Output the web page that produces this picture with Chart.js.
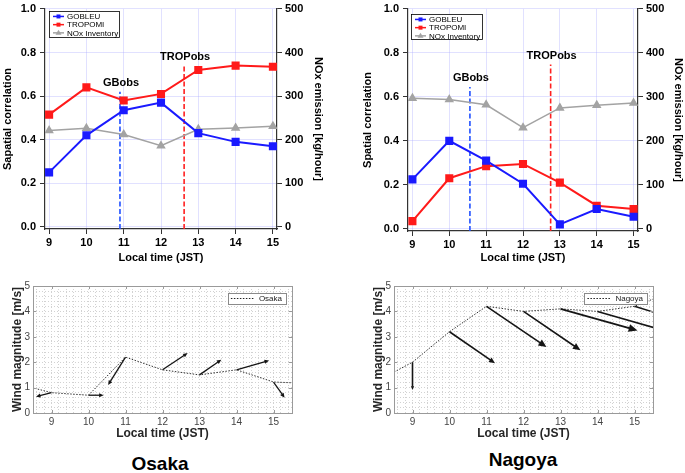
<!DOCTYPE html>
<html>
<head>
<meta charset="utf-8">
<script src="https://cdn.jsdelivr.net/npm/chart.js@4.4.0/dist/chart.umd.min.js"></script>
<style>
body { margin: 0; background: #fff; width: 685px; height: 473px; position: relative; overflow: hidden; font-family: "Liberation Sans", Arial, sans-serif; }
canvas { position: absolute; }
.city { position: absolute; font-weight: bold; font-size: 19px; line-height: 22px; color: #000; white-space: nowrap; transform: translateX(-50%); }
</style>
</head>
<body>
<canvas id="osakaTop" style="left:0;top:0" width="340" height="270"></canvas>
<canvas id="nagoyaTop" style="left:360px;top:0" width="325" height="270"></canvas>
<canvas id="osakaWind" style="left:0;top:270px" width="340" height="175"></canvas>
<canvas id="nagoyaWind" style="left:361px;top:270px" width="324" height="175"></canvas>
<div class="city" style="left:160px;top:453px">Osaka</div>
<div class="city" style="left:523px;top:449px">Nagoya</div>
<script>
// hours of the day (JST)
var hours = [9, 10, 11, 12, 13, 14, 15];
var corrTicks = [0, 0.2, 0.4, 0.6, 0.8, 1.0];
var noxTicks = [0, 100, 200, 300, 400, 500];

// spatial correlation, Osaka
var osakaGobleu = [0.25, 0.42, 0.535, 0.57, 0.43, 0.39, 0.37];
var osakaTropomi = [0.515, 0.64, 0.58, 0.61, 0.72, 0.74, 0.735];
var osakaNox = [221, 226, 212, 186, 224, 227, 231];
// spatial correlation, Nagoya
var nagoyaGobleu = [0.225, 0.40, 0.31, 0.205, 0.02, 0.09, 0.055];
var nagoyaTropomi = [0.035, 0.23, 0.285, 0.295, 0.21, 0.105, 0.09];
var nagoyaNox = [297, 294, 282, 230, 275, 281, 286];

// observation time markers
var obsLabels = ['GBobs', 'TROPobs'];
var obsColors = ['#2050ff', '#ff2020'];
var osakaObsTime = [10.9, 12.62];
var osakaObsTop = [0.62, 0.74];
var nagoyaObsTime = [10.56, 12.75];
var nagoyaObsTop = [0.645, 0.747];

// wind magnitude (m/s), the line runs past both plot edges
var windHours = [8, 9, 10, 11, 12, 13, 14, 15, 16];
var osakaWind = [1.18, 0.8, 0.7, 2.2, 1.7, 1.5, 1.7, 1.22, 1.16];
var nagoyaWind = [1.22, 2.0, 3.2, 4.2, 4.0, 4.1, 4.0, 4.2, 4.77];
// wind arrows at each hour (dx in hours, dy in m/s)
var osakaU = [-0.42, 0.41, -0.47, 0.68, 0.59, 0.88, 0.30];
var osakaV = [-0.16, 0, -1.10, 0.66, 0.60, 0.37, -0.62];
var nagoyaU = [0, 1.23, 1.62, 1.54, 2.08, 2.1, 2.0];
var nagoyaV = [-1.09, -1.24, -1.60, -1.53, -0.85, -0.88, -0.9];

// minor grid positions for the wind plots
var windGridX = [];
for (var k = 43; k <= 77; k++) windGridX.push(k / 5);

var FONT = '"Liberation Sans", Arial, sans-serif';

function pts(xs, ys) {
    return xs.map(function (x, i) { return {x: x, y: ys[i]}; });
}

function asTicks(list) {
    return function (s) { s.ticks = list.map(function (t) { return {value: t}; }); };
}

// dashed obs lines + custom boxed legend
var topExtras = {
    id: 'topExtras',
    beforeDatasetsDraw: function (chart, args, o) {
        var ctx = chart.ctx, a = chart.chartArea, x = chart.scales.x, y = chart.scales.y;
        ctx.save();
        o.obsTime.forEach(function (t, i) {
            var px = x.getPixelForValue(t);
            var py = y.getPixelForValue(o.obsTop[i]);
            ctx.strokeStyle = obsColors[i];
            ctx.lineWidth = 1.6;
            ctx.setLineDash([5, 2.5]);
            ctx.beginPath();
            ctx.moveTo(px, a.bottom);
            ctx.lineTo(px, py);
            ctx.stroke();
            ctx.setLineDash([]);
            ctx.fillStyle = '#000';
            ctx.font = 'bold 11px ' + FONT;
            ctx.textAlign = 'center';
            ctx.textBaseline = 'middle';
            ctx.fillText(obsLabels[i], px + 1, py - 9);
        });
        ctx.restore();
    },
    afterDraw: function (chart, args, o) {
        var ctx = chart.ctx, a = chart.chartArea;
        var bx = a.left + o.legend.dx, by = a.top + o.legend.dy;
        ctx.save();
        ctx.fillStyle = '#fff';
        ctx.fillRect(bx, by, o.legend.w, o.legend.h);
        ctx.strokeStyle = '#000';
        ctx.lineWidth = 0.8;
        ctx.strokeRect(bx + 0.5, by + 0.5, o.legend.w, o.legend.h);
        chart.data.datasets.forEach(function (ds, i) {
            var ly = by + 5.5 + i * 8.2;
            ctx.strokeStyle = ds.borderColor;
            ctx.lineWidth = 1.5;
            ctx.beginPath();
            ctx.moveTo(bx + 4, ly);
            ctx.lineTo(bx + 15, ly);
            ctx.stroke();
            ctx.fillStyle = ds.borderColor;
            ctx.beginPath();
            if (ds.pointStyle === 'triangle') {
                ctx.moveTo(bx + 9.5, ly - 3);
                ctx.lineTo(bx + 12.5, ly + 2);
                ctx.lineTo(bx + 6.5, ly + 2);
                ctx.closePath();
            } else {
                ctx.rect(bx + 7.5, ly - 2, 4, 4);
            }
            ctx.fill();
            ctx.fillStyle = '#000';
            ctx.font = '8px ' + FONT;
            ctx.textAlign = 'left';
            ctx.textBaseline = 'middle';
            ctx.fillText(ds.label, bx + 18, ly + 0.5);
        });
        ctx.restore();
    }
};

function topChart(id, gob, trop, nox, obsTime, obsTop, yTitle, geo) {
    var tickFont = {family: FONT, size: 11, weight: 'bold', lineHeight: 0.9};
    var gridCol = 'rgba(170,170,255,0.35)';
    return new Chart(document.getElementById(id), {
        type: 'line',
        data: {
            datasets: [{
                label: 'GOBLEU',
                data: pts(hours, gob),
                borderColor: '#1a1aff',
                backgroundColor: '#1a1aff',
                borderWidth: 2,
                pointStyle: 'rect',
                pointRadius: 4.3,
                yAxisID: 'y'
            }, {
                label: 'TROPOMI',
                data: pts(hours, trop),
                borderColor: '#ff1a1a',
                backgroundColor: '#ff1a1a',
                borderWidth: 2,
                pointStyle: 'rect',
                pointRadius: 4.3,
                yAxisID: 'y'
            }, {
                label: 'NOx Inventory',
                data: pts(hours, nox),
                borderColor: '#a3a3a3',
                backgroundColor: '#a3a3a3',
                borderWidth: 1.5,
                pointStyle: 'triangle',
                pointRadius: 4,
                yAxisID: 'y2'
            }]
        },
        options: {
            responsive: false,
            animation: false,
            layout: {padding: {top: geo.padTop, left: 0, right: 0, bottom: 0}},
            plugins: {
                legend: {display: false},
                tooltip: {enabled: false},
                topExtras: {obsTime: obsTime, obsTop: obsTop, legend: geo.legend}
            },
            scales: {
                x: {
                    type: 'linear',
                    min: geo.xmin,
                    max: geo.xmax,
                    afterBuildTicks: asTicks(hours),
                    ticks: {padding: 4, color: '#000', font: tickFont, maxRotation: 0},
                    grid: {color: gridCol, tickColor: '#333', tickLength: 5},
                    border: {color: '#333', width: 1.2},
                    title: {display: true, text: 'Local time (JST)', color: '#000', font: {family: FONT, size: 11, weight: 'bold'}, padding: {top: 0, bottom: 5}},
                    afterFit: function (s) { s.height = geo.xH; }
                },
                y: {
                    position: 'left',
                    min: -0.01,
                    max: 1,
                    afterBuildTicks: asTicks(corrTicks),
                    ticks: {padding: 4, color: '#000', font: tickFont, callback: function (v) { return v.toFixed(1); }},
                    grid: {color: gridCol, tickColor: '#333', tickLength: 5},
                    border: {color: '#333', width: 1.2},
                    title: {display: true, text: yTitle, color: '#000', font: {family: FONT, size: 11, weight: 'bold'}, padding: {top: geo.yTitlePad, bottom: 0}},
                    afterFit: function (s) { s.width = geo.yW; }
                },
                y2: {
                    position: 'right',
                    min: -5,
                    max: 500,
                    afterBuildTicks: asTicks(noxTicks),
                    ticks: {padding: 3, color: '#000', font: tickFont},
                    grid: {drawOnChartArea: false, tickColor: '#333', tickLength: 5},
                    border: {color: '#333', width: 1.2},
                    title: {display: true, text: 'NOx emission [kg/hour]', color: '#000', font: {family: FONT, size: 11, weight: 'bold'}, padding: {top: geo.y2TitlePad, bottom: 0}},
                    afterFit: function (s) { s.width = geo.y2W; }
                }
            }
        },
        plugins: [topExtras]
    });
}

// wind arrows, box frame, inner ticks and legend
var windExtras = {
    id: 'windExtras',
    afterDatasetsDraw: function (chart, args, o) {
        var ctx = chart.ctx, a = chart.chartArea, x = chart.scales.x, y = chart.scales.y;
        var wind = chart.data.datasets[0].data;
        ctx.save();
        ctx.beginPath();
        ctx.rect(a.left, a.top, a.right - a.left, a.bottom - a.top);
        ctx.clip();
        ctx.strokeStyle = '#151515';
        ctx.fillStyle = '#151515';
        ctx.lineWidth = o.lineWidth;
        hours.forEach(function (h, i) {
            var mag = wind[windHours.indexOf(h)].y;
            var x0 = x.getPixelForValue(h), y0 = y.getPixelForValue(mag);
            var x1 = x.getPixelForValue(h + o.u[i]), y1 = y.getPixelForValue(mag + o.v[i]);
            var len = Math.hypot(x1 - x0, y1 - y0);
            var ang = Math.atan2(y1 - y0, x1 - x0);
            var head = Math.max(o.minHead, len * 0.12);
            var xb = x1 - head * 0.8 * Math.cos(ang), yb = y1 - head * 0.8 * Math.sin(ang);
            ctx.beginPath();
            ctx.moveTo(x0, y0);
            ctx.lineTo(xb, yb);
            ctx.stroke();
            ctx.beginPath();
            ctx.moveTo(x1, y1);
            ctx.lineTo(x1 - head * Math.cos(ang - 0.42), y1 - head * Math.sin(ang - 0.42));
            ctx.lineTo(x1 - head * Math.cos(ang + 0.42), y1 - head * Math.sin(ang + 0.42));
            ctx.closePath();
            ctx.fill();
        });
        ctx.restore();

        ctx.save();
        // frame
        ctx.strokeStyle = '#9a9a9a';
        ctx.lineWidth = 1;
        ctx.strokeRect(Math.round(a.left) + 0.5, Math.round(a.top) + 0.5, Math.round(a.right - a.left), Math.round(a.bottom - a.top));
        // inner tick marks at integers
        ctx.beginPath();
        hours.forEach(function (h) {
            var px = Math.round(x.getPixelForValue(h)) + 0.5;
            ctx.moveTo(px, a.top); ctx.lineTo(px, a.top + 3);
            ctx.moveTo(px, a.bottom); ctx.lineTo(px, a.bottom - 3);
        });
        for (var m = 1; m < 5; m++) {
            var py = Math.round(y.getPixelForValue(m)) + 0.5;
            ctx.moveTo(a.left, py); ctx.lineTo(a.left + 3, py);
            ctx.moveTo(a.right, py); ctx.lineTo(a.right - 3, py);
        }
        ctx.stroke();
        // legend box
        ctx.font = '8px ' + FONT;
        var label = chart.data.datasets[0].label;
        var tw = ctx.measureText(label).width;
        var w = 3 + 24 + 4 + tw + 4, h = 11;
        var bx = a.right - 6 - w, by = a.top + 7;
        ctx.fillStyle = '#fff';
        ctx.fillRect(bx, by, w, h);
        ctx.strokeStyle = '#8a8a8a';
        ctx.strokeRect(Math.round(bx) + 0.5, Math.round(by) + 0.5, Math.round(w), h);
        ctx.strokeStyle = '#222';
        ctx.setLineDash([1.5, 1.5]);
        ctx.beginPath();
        ctx.moveTo(bx + 3, by + h / 2);
        ctx.lineTo(bx + 27, by + h / 2);
        ctx.stroke();
        ctx.setLineDash([]);
        ctx.fillStyle = '#222';
        ctx.textAlign = 'left';
        ctx.textBaseline = 'middle';
        ctx.fillText(label, bx + 31, by + h / 2 + 0.5);
        ctx.restore();
    }
};

function isWhole(v) { return Math.abs(v - Math.round(v)) < 1e-6; }

function windChart(id, name, wind, u, v, geo) {
    var tickFont = {family: FONT, size: 10};
    return new Chart(document.getElementById(id), {
        type: 'line',
        data: {
            datasets: [{
                label: name,
                data: pts(windHours, wind),
                borderColor: '#333',
                borderWidth: 1,
                borderDash: [1.5, 1.5],
                pointRadius: 0,
                tension: 0
            }]
        },
        options: {
            responsive: false,
            animation: false,
            layout: {padding: {top: 16, right: geo.padRight, left: 0, bottom: 0}},
            plugins: {
                legend: {display: false},
                tooltip: {enabled: false},
                windExtras: {u: u, v: v, lineWidth: geo.arrowWidth, minHead: geo.minHead}
            },
            scales: {
                x: {
                    type: 'linear',
                    min: 8.5,
                    max: 15.5,
                    afterBuildTicks: asTicks(windGridX),
                    ticks: {autoSkip: false, maxRotation: 0, padding: 3, color: '#444', font: tickFont,
                        callback: function (t) { return isWhole(t) ? Math.round(t) : ''; }},
                    grid: {color: '#d2d2d2', drawTicks: false, lineWidth: 1},
                    border: {display: false, dash: [1, 2]},
                    title: {display: true, text: 'Local time (JST)', color: '#262626', font: {family: FONT, size: 12, weight: 'bold'}, padding: {top: 0, bottom: 4}},
                    afterFit: function (s) { s.height = 32; }
                },
                y: {
                    min: 0,
                    max: 5,
                    ticks: {stepSize: 0.2, autoSkip: false, padding: 3, color: '#444', font: tickFont,
                        callback: function (t) { return isWhole(t) ? Math.round(t) : ''; }},
                    grid: {color: '#d2d2d2', drawTicks: false, lineWidth: 1},
                    border: {display: false, dash: [1, 2]},
                    title: {display: true, text: 'Wind magnitude [m/s]', color: '#262626', font: {family: FONT, size: 12, weight: 'bold'}, padding: {top: 10, bottom: 0}},
                    afterFit: function (s) { s.width = 33; }
                }
            }
        },
        plugins: [windExtras]
    });
}

topChart('osakaTop', osakaGobleu, osakaTropomi, osakaNox, osakaObsTime, osakaObsTop, 'Sapatial correlation', {
    xmin: 8.89, xmax: 15.11, padTop: 0, xH: 41, yW: 45, y2W: 63, yTitlePad: 1, y2TitlePad: 15,
    legend: {dx: 4, dy: 2, w: 70, h: 26}
});
topChart('nagoyaTop', nagoyaGobleu, nagoyaTropomi, nagoyaNox, nagoyaObsTime, nagoyaObsTop, 'Spatial correlation', {
    xmin: 8.88, xmax: 15.12, padTop: 7, xH: 39, yW: 48, y2W: 47, yTitlePad: 1, y2TitlePad: 0,
    legend: {dx: 3, dy: 5, w: 71, h: 25}
});
windChart('osakaWind', 'Osaka', osakaWind, osakaU, osakaV, {padRight: 48, arrowWidth: 1.3, minHead: 5});
windChart('nagoyaWind', 'Nagoya', nagoyaWind, nagoyaU, nagoyaV, {padRight: 32, arrowWidth: 1.6, minHead: 4});
</script>
</body>
</html>
